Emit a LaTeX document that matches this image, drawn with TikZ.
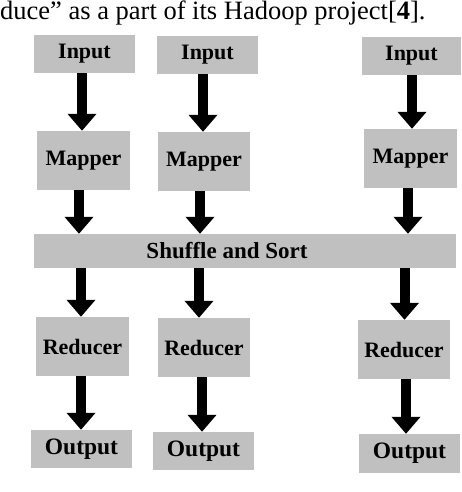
\documentclass[tikz,border=0pt]{standalone}
\usepackage{fontspec}
\setmainfont{Liberation Serif}
\usetikzlibrary{arrows.meta}
\definecolor{boxgray}{RGB}{192,192,192}
\tikzset{
  box/.style={fill=boxgray, draw=none, inner sep=0pt, font=\fontsize{22}{26}\selectfont\bfseries},
  arr/.style={line width=10pt, -{Triangle[width=28pt,length=17pt]}, black},
}
\begin{document}
\begin{tikzpicture}[x=1pt, y=-1pt]
\useasboundingbox (0,0) rectangle (462,492);
% caption fragment
\node[anchor=base west, inner sep=0pt, font=\fontsize{26.5}{31}\selectfont] (cap) at (0,19.5) {duce” as a part of its Hadoop project[\textbf{4}].};
% inputs
\node[box, minimum width=101pt, minimum height=38pt] (in1) at (84.5,54) {Input};
\node[box, minimum width=101pt, minimum height=38pt] (in2) at (207.5,55) {Input};
\node[box, minimum width=99pt, minimum height=38pt] (in3) at (411.5,56) {Input};
% mappers
\node[box, minimum width=93pt, minimum height=59pt] (map1) at (83.5,160.5) {Mapper};
\node[box, minimum width=92pt, minimum height=59pt] (map2) at (204,161.5) {Mapper};
\node[box, minimum width=93pt, minimum height=59pt] (map3) at (410.5,158.5) {Mapper};
% shuffle
\node[box, minimum width=422pt, minimum height=34pt, font=\fontsize{23}{27}\selectfont\bfseries] (shuf) at (245,251) {Shuffle and Sort\kern36pt};
% reducers
\node[box, minimum width=93pt, minimum height=59pt] (red1) at (82.5,346.5) {Reducer};
\node[box, minimum width=92pt, minimum height=59pt] (red2) at (204,347.5) {Reducer};
\node[box, minimum width=92pt, minimum height=59pt] (red3) at (404,349.5) {Reducer};
% outputs
\node[box, minimum width=101pt, minimum height=38pt, font=\fontsize{23.5}{27}\selectfont\bfseries] (out1) at (81.5,449) {Output};
\node[box, minimum width=101pt, minimum height=38pt, font=\fontsize{23.5}{27}\selectfont\bfseries] (out2) at (203.5,451) {Output};
\node[box, minimum width=101pt, minimum height=39pt, font=\fontsize{23.5}{27}\selectfont\bfseries] (out3) at (409.5,453.5) {Output};
% arrows input -> mapper
\draw[arr] ([xshift=-2.5pt]in1.south) -- ([xshift=-2.5pt]in1.south |- map1.north);
\draw[arr] ([xshift=-4.5pt]in2.south) -- ([xshift=-4.5pt]in2.south |- map2.north);
\draw[arr] ([xshift=0.5pt]in3.south) -- ([xshift=0.5pt]in3.south |- map3.north);
% arrows mapper -> shuffle
\draw[arr] ([xshift=-4.5pt]map1.south) -- ([xshift=-4.5pt]map1.south |- shuf.north);
\draw[arr] ([xshift=-4pt]map2.south) -- ([xshift=-4pt]map2.south |- shuf.north);
\draw[arr] ([xshift=-2.5pt]map3.south) -- ([xshift=-2.5pt]map3.south |- shuf.north);
% arrows shuffle -> reducer
\draw[arr] (shuf.south -| red1.south) ++(-1.5pt,0) coordinate (s1) (s1) -- (s1 |- red1.north);
\draw[arr] (shuf.south -| red2.south) ++(-5pt,0) coordinate (s2) (s2) -- (s2 |- red2.north);
\draw[arr] (shuf.south -| red3.south) ++(0.5pt,0) coordinate (s3) (s3) -- (s3 |- red3.north);
% arrows reducer -> output
\draw[arr] ([xshift=-1.5pt]red1.south) -- ([xshift=-1.5pt]red1.south |- out1.north);
\draw[arr] ([xshift=-2pt]red2.south) -- ([xshift=-2pt]red2.south |- out2.north);
\draw[arr] ([xshift=2pt]red3.south) -- ([xshift=2pt]red3.south |- out3.north);
\end{tikzpicture}
\end{document}
